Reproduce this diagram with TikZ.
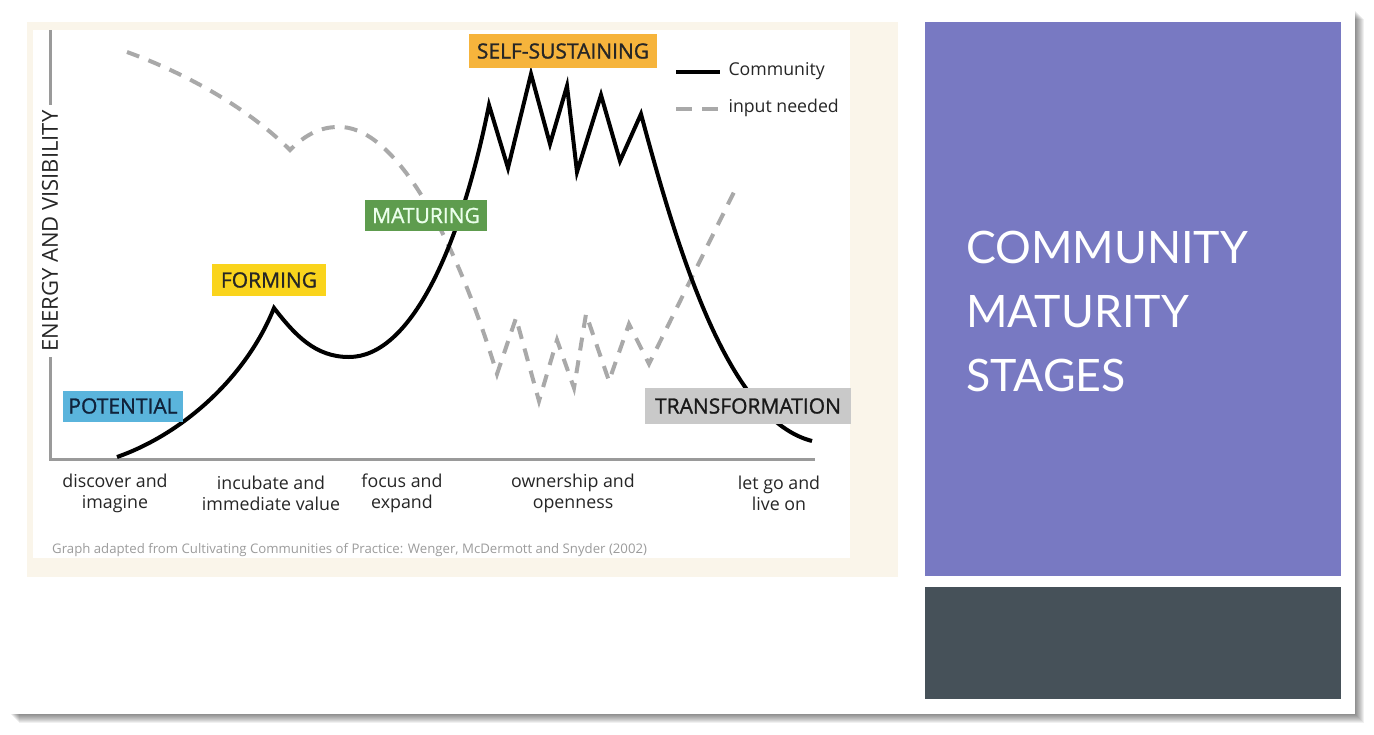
\documentclass[tikz,border=0pt]{standalone}
\usepackage{fontspec}
\setmainfont{Open Sans}
\newfontfamily\stagefont[FakeBold=1.2]{Open Sans}
\newfontfamily\titlefont{Lato}
\definecolor{cream}{HTML}{FAF5EA}
\definecolor{axisgray}{HTML}{9A9A9A}
\definecolor{dashgray}{HTML}{A9A9A9}
\definecolor{potblue}{HTML}{5AB4DC}
\definecolor{potText}{HTML}{10223A}
\definecolor{formyellow}{HTML}{FAD41C}
\definecolor{matgreen}{HTML}{5E9C4E}
\definecolor{selforange}{HTML}{F6B43C}
\definecolor{transgray}{HTML}{C9C9C9}
\definecolor{slidepurple}{HTML}{7879C2}
\definecolor{slidedark}{HTML}{465159}
\definecolor{captiongray}{HTML}{9C9C9C}
\begin{document}
\begin{tikzpicture}[x=1pt,y=-1pt,
  stage/.style={inner sep=0pt, font=\stagefont\fontsize{21}{24}\selectfont},
  xlab/.style={align=center, font=\fontsize{17.8}{21}\selectfont, text=black!85},
  legtext/.style={anchor=west, font=\fontsize{17.7}{20}\selectfont, text=black!85},
  community/.style={line width=4pt, black, line join=miter},
  inputline/.style={line width=4pt, dashgray, dash pattern=on 13pt off 10pt, line join=miter},
  titletext/.style={anchor=base west, text=white, font=\titlefont\fontsize{44.7}{64}\selectfont, inner sep=0pt}]
\useasboundingbox (0,0) rectangle (1374,734);
\fill[white] (0,0) rectangle (1374,734);
% slide shadow
\foreach \k in {1,...,10}
  \fill[black, opacity=0.06] (9+\k,9+\k) rectangle (1354+\k,713+\k);
\fill[white] (5,5) rectangle (1355,714);
% chart image background
\fill[cream] (27,22) rectangle (898,577);
\fill[white] (33,30) rectangle (850,558);
% axes
\draw[axisgray, line width=3pt] (50,30) -- (50,459) -- (815,459);
\node[fill=white, rotate=90, inner xsep=6pt, inner ysep=2pt, font=\fontsize{22}{24}\selectfont, text=black!85] (ylab) at (50,231) {ENERGY AND VISIBILITY};
% input needed (dashed)
\draw[inputline] (127,52) .. controls (190,75) and (250,110) .. (290,150)
  .. controls (305,135) and (320,127) .. (338,127)
  .. controls (390,125) and (450,220) .. (497,374)
  -- (516,318) -- (539,401) -- (557,340) -- (574,388) -- (586,314)
  -- (609,381) -- (629,324) -- (649,364) -- (735,190);
% community (solid)
\draw[community] (117,457) .. controls (180,435) and (245,380) .. (274,308)
  .. controls (295,335) and (315,357) .. (349,357)
  .. controls (410,357) and (460,250) .. (489,105)
  -- (508,168) -- (531,74) -- (550,144) -- (567,86) -- (577,172)
  -- (601,95) -- (620,161) -- (641,114)
  .. controls (680,260) and (730,420) .. (812,441);
% stage labels
\node[stage, fill=potblue, text=potText, minimum width=120pt, minimum height=31pt] (potential) at (123,406) {POTENTIAL};
\node[stage, fill=formyellow, text=black!85, minimum width=114pt, minimum height=32pt] (forming) at (269,280) {FORMING};
\node[stage, fill=matgreen, text=white!92!green, minimum width=122pt, minimum height=31pt] (maturing) at (426,215.5) {MATURING};
\node[stage, fill=selforange, text=black!85, minimum width=188pt, minimum height=34pt] (selfsust) at (563,51) {SELF-SUSTAINING};
\node[stage, fill=transgray, text=black!90, minimum width=206pt, minimum height=36pt] (transf) at (748,406) {TRANSFORMATION};
% legend
\coordinate (lc1) at (676,72);
\coordinate (lc2) at (720,72);
\draw[line width=4pt, black] (lc1) -- (lc2);
\node[legtext] (legc) at (725,71) {Community};
\coordinate (li1) at (676,109);
\coordinate (li2) at (720,109);
\draw[line width=4pt, dashgray, dash pattern=on 16pt off 10pt] (li1) -- (li2);
\node[legtext] (legi) at (725,108) {input needed};
% x-axis labels
\node[xlab] (x1) at (115,493) {discover and\\imagine};
\node[xlab] (x2) at (271,493) {incubate and\\immediate value};
\node[xlab] (x3) at (402,493) {focus and\\expand};
\node[xlab] (x4) at (573,493) {ownership and\\openness};
\node[xlab] (x5) at (779,493) {let go and\\live on};
% caption
\node[anchor=west, inner sep=0pt, text=captiongray, font=\fontsize{13.2}{15}\selectfont] (cap) at (52,550) {Graph adapted from Cultivating Communities of Practice: Wenger, McDermott and Snyder (2002)};
% right panel
\fill[slidepurple] (925,22) rectangle (1341,576);
\fill[slidedark] (925,587) rectangle (1341,699);
\node[titletext] (t1) at (966,263) {COMMUNITY};
\node[titletext] (t2) at (966,327) {MATURITY};
\node[titletext] (t3) at (966,391) {STAGES};
\end{tikzpicture}
\end{document}
